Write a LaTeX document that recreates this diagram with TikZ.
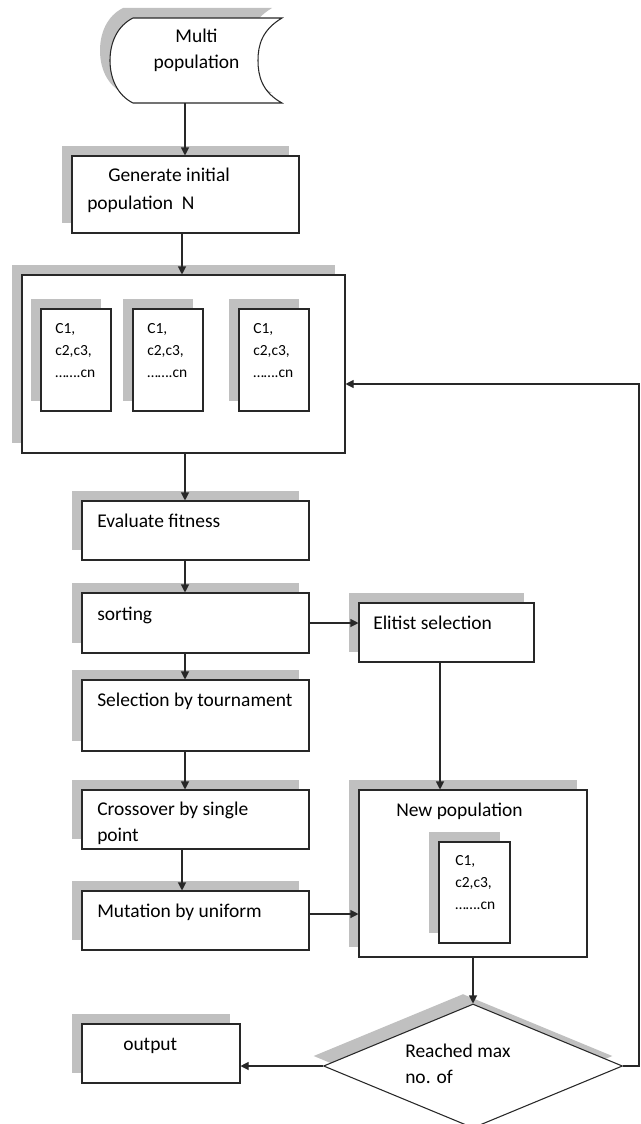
\documentclass[tikz,border=0pt]{standalone}
\usepackage{fontspec}
\setmainfont{Carlito}
\usetikzlibrary{arrows.meta,shapes.geometric,shadows,fit}
\definecolor{shadowgray}{RGB}{192,192,192}
\definecolor{linec}{RGB}{40,40,40}
\begin{document}
\begin{tikzpicture}[x=0.75pt,y=-0.75pt,
  pshadow/.style={general shadow={fill=shadowgray,shadow xshift=-7.5pt,shadow yshift=7.5pt}},
  pbox/.style={draw=linec,line width=0.8pt,fill=white,inner sep=0pt,pshadow},
  arr/.style={draw=linec,line width=0.8pt,-{Triangle[length=6pt,width=6pt]}},
  lbl/.style={inner sep=0pt,anchor=base west,align=left,font=\fontsize{14.6}{19.5}\selectfont},
  slbl/.style={inner sep=0pt,anchor=base west,align=left,font=\fontsize{11.6}{16.5}\selectfont}]
\useasboundingbox (0,0) rectangle (641,1124);
\fill[white] (0,0) rectangle (641,1124);

% Multi population (stored data shape)
\fill[shadowgray,shift={(-10,-10)}] (133,18) -- (282,18)
  .. controls (262,30) and (258,45) .. (258,60.5)
  .. controls (258,76) and (262,92) .. (282,103) -- (133,103)
  .. controls (117,95) and (110,78) .. (110,60.5)
  .. controls (110,43) and (117,26) .. (133,18) -- cycle;
\filldraw[fill=white,draw=linec,line width=0.8pt] (133,18) -- (282,18)
  .. controls (262,30) and (258,45) .. (258,60.5)
  .. controls (258,76) and (262,92) .. (282,103) -- (133,103)
  .. controls (117,95) and (110,78) .. (110,60.5)
  .. controls (110,43) and (117,26) .. (133,18) -- cycle;
\node[fit={(110,18) (282,103)},inner sep=0pt] (multi) {};
\node[lbl,anchor=base,align=center] (tmulti) at (196.5,69) {Multi\\population};

% Generate initial population
\node[pbox,fit={(72,156) (299,233)}] (gen) {};
\node[lbl] (tgen) at (87,209) {\hspace*{15.75pt}Generate initial\\[1.5pt]population~~N};

% Big population box
\node[pbox,fit={(22,275) (345,453)}] (big) {};
\node[pbox,fit={(41,309) (111,411)}] (sb1) {};
\node[pbox,fit={(133,309) (203,411)}] (sb2) {};
\node[pbox,fit={(239,309) (309,411)}] (sb3) {};
\node[slbl] (tsb1) at (55,377) {C1,\\c2,c3,\\…….cn};
\node[slbl] (tsb2) at (147,377) {C1,\\c2,c3,\\…….cn};
\node[slbl] (tsb3) at (253,377) {C1,\\c2,c3,\\…….cn};

% Left column
\node[pbox,fit={(82,501) (309,560)}] (eval) {};
\node[lbl] (teval) at (97,527) {Evaluate fitness};
\node[pbox,fit={(82,593) (309,653)}] (sort) {};
\node[lbl] (tsort) at (97,620) {sorting};
\node[pbox,fit={(82,680) (309,751)}] (sel) {};
\node[lbl] (tsel) at (97,706) {Selection by tournament};
\node[pbox,fit={(82,790) (309,849)}] (cross) {};
\node[lbl] (tcross) at (97,841) {Crossover by single\\point};
\node[pbox,fit={(82,891) (309,950)}] (mut) {};
\node[lbl] (tmut) at (97,917) {Mutation by uniform};
\node[pbox,fit={(82,1024) (240,1083)}] (out) {};
\node[lbl] (tout) at (123,1050) {output};

% Right column
\node[pbox,fit={(359,603) (534,662)}] (elit) {};
\node[lbl] (telit) at (373,629) {Elitist selection};
\node[pbox,fit={(359,790) (587,957)}] (newpop) {};
\node[lbl] (tnewpop) at (396,816) {New population};
\node[pbox,fit={(439,842) (510,943)}] (sb4) {};
\node[slbl] (tsb4) at (455,909) {C1,\\c2,c3,\\…….cn};

% Decision
\node[draw=linec,line width=0.8pt,fill=white,diamond,inner sep=0pt,
  minimum width=224.25pt,minimum height=93pt,pshadow] (dia) at (473,1066) {};
\node[lbl] (tdia) at (405,1083) {Reached max\\no. of};

% Connectors
\coordinate (ax1) at (185,0);
\coordinate (ax2) at (182,0);
\coordinate (ax3) at (440,0);
\coordinate (ay1) at (0,914);
\coordinate (loopc) at (639,384);
\draw[arr] (multi.south -| ax1) -- (gen.north -| ax1);
\draw[arr] (gen.south -| ax2) -- (big.north -| ax2);
\draw[arr] (big.south -| ax1) -- (eval.north -| ax1);
\draw[arr] (eval.south -| ax1) -- (sort.north -| ax1);
\draw[arr] (sort.south -| ax1) -- (sel.north -| ax1);
\draw[arr] (sel.south -| ax1) -- (cross.north -| ax1);
\draw[arr] (cross.south -| ax2) -- (mut.north -| ax2);
\draw[arr] (sort.east) -- (sort.east -| elit.west);
\draw[arr] (elit.south -| ax3) -- (newpop.north -| ax3);
\draw[arr] (mut.east |- ay1) -- (newpop.west |- ay1);
\draw[arr] (dia.north |- newpop.south) -- (dia.north);
\draw[arr] (dia.west) -- (dia.west -| out.east);
\draw[arr] (dia.east) -| (loopc) -- (loopc -| big.east);
\end{tikzpicture}
\end{document}
